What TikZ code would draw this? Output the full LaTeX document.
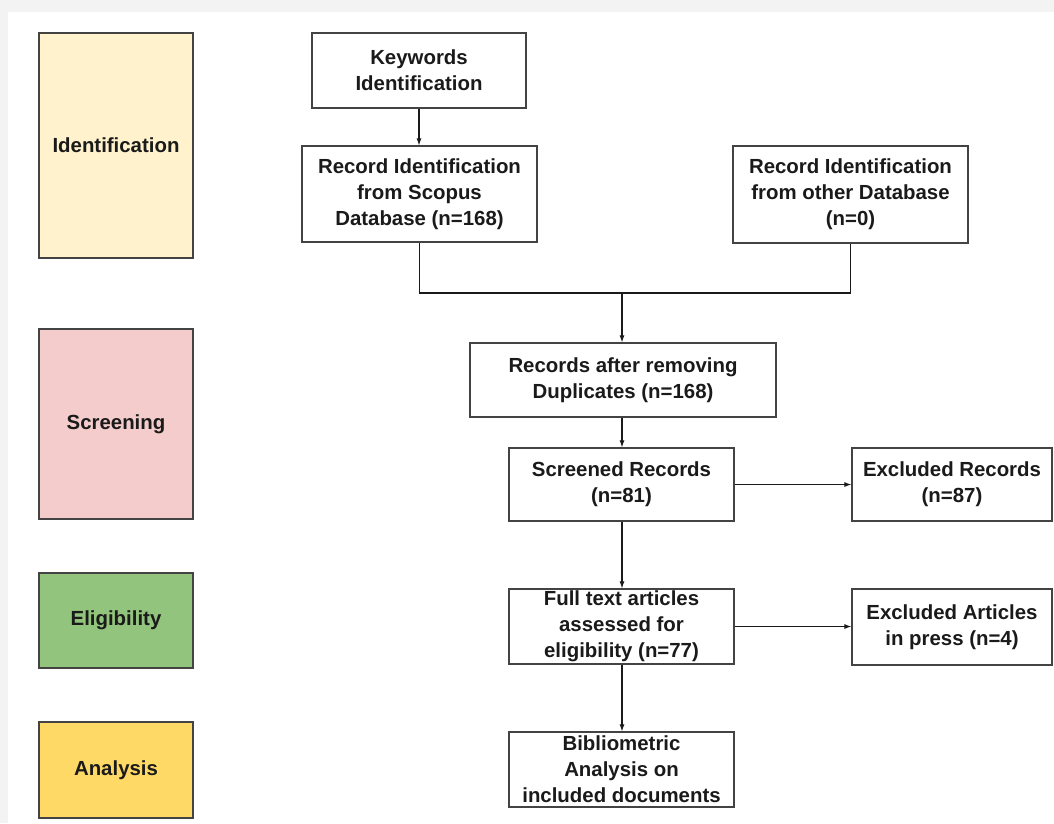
\documentclass[tikz,border=0pt]{standalone}
\usepackage{fontspec}
\setmainfont{Liberation Sans}
\usetikzlibrary{arrows.meta}
\definecolor{bggray}{HTML}{F3F3F3}
\definecolor{idfill}{HTML}{FFF2CC}
\definecolor{scfill}{HTML}{F4CCCC}
\definecolor{elfill}{HTML}{93C47D}
\definecolor{anfill}{HTML}{FFD966}
\definecolor{edge}{HTML}{434343}
\definecolor{ink}{HTML}{1A1A1A}
\begin{document}
\begin{tikzpicture}[x=1pt,y=-1pt,
  box/.style={draw=edge, line width=1.2pt, fill=white, inner sep=0pt, align=center,
    font=\fontsize{20.4}{26}\selectfont\bfseries, text=ink},
  stage/.style={box, minimum width=154pt},
  conn/.style={draw=ink, line width=1.1pt},
  arr/.style={conn, -{Latex[length=7pt,width=5pt]}}]
\fill[bggray] (0,0) rectangle (1054,823);
\fill[white] (8,12) rectangle (1054,823);
\useasboundingbox (0,0) rectangle (1054,823);

% stage column
\node[stage, fill=idfill, minimum height=225pt] (sid) at (116,145.5) {Identification};
\node[stage, fill=scfill, minimum height=190pt] (ssc) at (116,424) {Screening};
\node[stage, fill=elfill, minimum height=95pt] (sel) at (116,620.5) {Eligibility};
\node[stage, fill=anfill, minimum height=96pt] (san) at (116,770) {Analysis};

% flow boxes
\node[box, minimum width=214pt, minimum height=75pt] (kw) at (419,70.5) {Keywords\\Identification};
\node[box, minimum width=235pt, minimum height=96pt] (sc) at (419.5,194) {Record Identification\\from Scopus\\Database (n=168)};
\node[box, minimum width=235pt, minimum height=97pt] (ot) at (850.5,194.5) {Record Identification\\from other Database\\(n=0)};
\node[box, minimum width=306pt, minimum height=74pt] (rec) at (623,380) {Records after removing\\Duplicates (n=168)};
\node[box, minimum width=225pt, minimum height=73pt] (scr) at (621.5,484.5) {Screened Records\\(n=81)};
\node[box, minimum width=200pt, minimum height=73pt] (exr) at (952,484.5) {Excluded Records\\(n=87)};
\node[box, minimum width=225pt, minimum height=75pt] (ft) at (621.5,626.5) {Full text articles\\assessed for\\eligibility (n=77)};
\node[box, minimum width=200pt, minimum height=76pt] (exa) at (952,627) {Excluded Articles\\in press (n=4)};
\node[box, minimum width=225pt, minimum height=75pt] (bib) at (621.5,769.5) {Bibliometric\\Analysis on\\included documents};

\coordinate (m) at (622,293);

% connectors
\draw[arr] (kw.south) -- (kw.south |- sc.north);
\draw[conn] (sc.south) |- (m) -| (ot.south);
\draw[arr] (m) -- (m |- rec.north);
\draw[arr] (rec.south -| m) -- (scr.north -| m);
\draw[arr] (scr.east) -- (exr.west);
\draw[arr] (scr.south -| m) -- (ft.north -| m);
\draw[arr] (ft.east) -- (ft.east -| exa.west);
\draw[arr] (ft.south -| m) -- (bib.north -| m);
\end{tikzpicture}
\end{document}
